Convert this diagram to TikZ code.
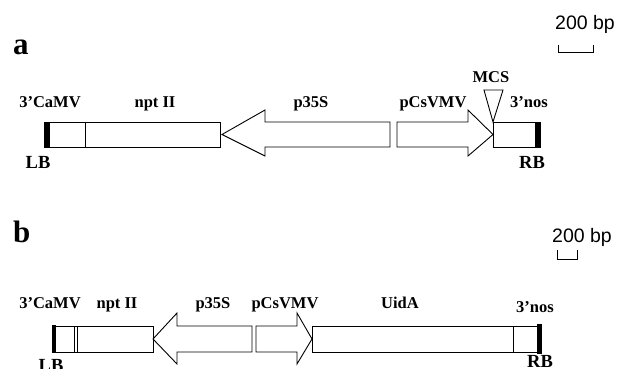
\documentclass[tikz,border=0pt]{standalone}
\usepackage{fontspec}
\setmainfont{Liberation Serif}
\newfontfamily\arialf{Liberation Sans}
\begin{document}
\begin{tikzpicture}[x=1pt,y=-1pt,
  lbl/.style={font=\fontsize{16.5}{18}\selectfont\bfseries,anchor=base,inner sep=0pt},
  brd/.style={font=\fontsize{18.5}{20}\selectfont\bfseries,anchor=base,inner sep=0pt},
  panel/.style={font=\fontsize{31}{33}\selectfont\bfseries,anchor=base west,inner sep=0pt},
  scl/.style={font=\fontsize{19.5}{21}\selectfont\arialf,anchor=base west,inner sep=0pt},
  outl/.style={draw=black,line width=0.9pt,fill=white,line join=miter},
  bar/.style={fill=black,draw=none},
  sbar/.style={draw=black,line width=0.9pt}]
\useasboundingbox (0,0) rectangle (619,369);
% ---------- panel a ----------
\node[panel] (la) at (13,55) {a};
\node[scl] (sa) at (555,30) {200 bp};
\draw[sbar] (558,45) -- (558,52) -- (593,52) -- (593,45);
% boxes
\draw[outl] (44,122) rectangle (220,147);
\draw[outl] (85,122) -- (85,147);
\fill[bar] (44,121.5) rectangle (50,147.5);
% p35S arrow (left)
\draw[outl] (222,134.5) -- (265,110) -- (265,122) -- (390,122) -- (390,147) -- (265,147) -- (265,156) -- cycle;
% pCsVMV arrow (right)
\draw[outl] (397,122) -- (468,122) -- (468,110) -- (493,134.5) -- (468,156) -- (468,147) -- (397,147) -- cycle;
% 3'nos
\draw[outl] (493,122) rectangle (540,147);
\fill[bar] (535,121.5) rectangle (540.5,147.5);
% MCS triangle
\draw[outl] (484,90) -- (503,90) -- (493,122) -- cycle;
% labels
\node[lbl] (a1) at (50,107) {3’CaMV};
\node[lbl] (a2) at (155,107) {npt II};
\node[lbl] (a3) at (311,107) {p35S};
\node[lbl] (a4) at (433,107) {pCsVMV};
\node[lbl] (a5) at (491,82) {MCS};
\node[lbl] (a6) at (529,107) {3’nos};
\node[brd] (a7) at (38,168) {LB};
\node[brd] (a8) at (532,168) {RB};
% ---------- panel b ----------
\node[panel] (lb) at (13,242) {b};
\node[scl] (sb) at (552,242) {200 bp};
\draw[sbar] (557,250) -- (557,259) -- (577,259) -- (577,250);
\draw[outl] (52,326) rectangle (153,352);
\draw[outl] (74.5,326) -- (74.5,352);
\draw[outl] (77.5,326) -- (77.5,352);
\fill[bar] (52,325) rectangle (56,353);
% p35S arrow (left)
\draw[outl] (153,339) -- (177,313) -- (177,326) -- (252,326) -- (252,352) -- (177,352) -- (177,364) -- cycle;
% pCsVMV arrow (right)
\draw[outl] (256,326) -- (297,326) -- (297,313) -- (312,339) -- (297,364) -- (297,352) -- (256,352) -- cycle;
% UidA + 3'nos
\draw[outl] (312,326) rectangle (537,352);
\draw[outl] (513,326) -- (513,352);
\fill[bar] (537,324) rectangle (542,354);
\node[lbl] (b1) at (50,308) {3’CaMV};
\node[lbl] (b2) at (117,308) {npt II};
\node[lbl] (b3) at (213,308) {p35S};
\node[lbl] (b4) at (285,308) {pCsVMV};
\node[lbl] (b5) at (400,308) {UidA};
\node[lbl] (b6) at (535,312) {3’nos};
\node[brd] (b7) at (51,371) {LB};
\node[brd] (b8) at (540,367) {RB};
\end{tikzpicture}
\end{document}
